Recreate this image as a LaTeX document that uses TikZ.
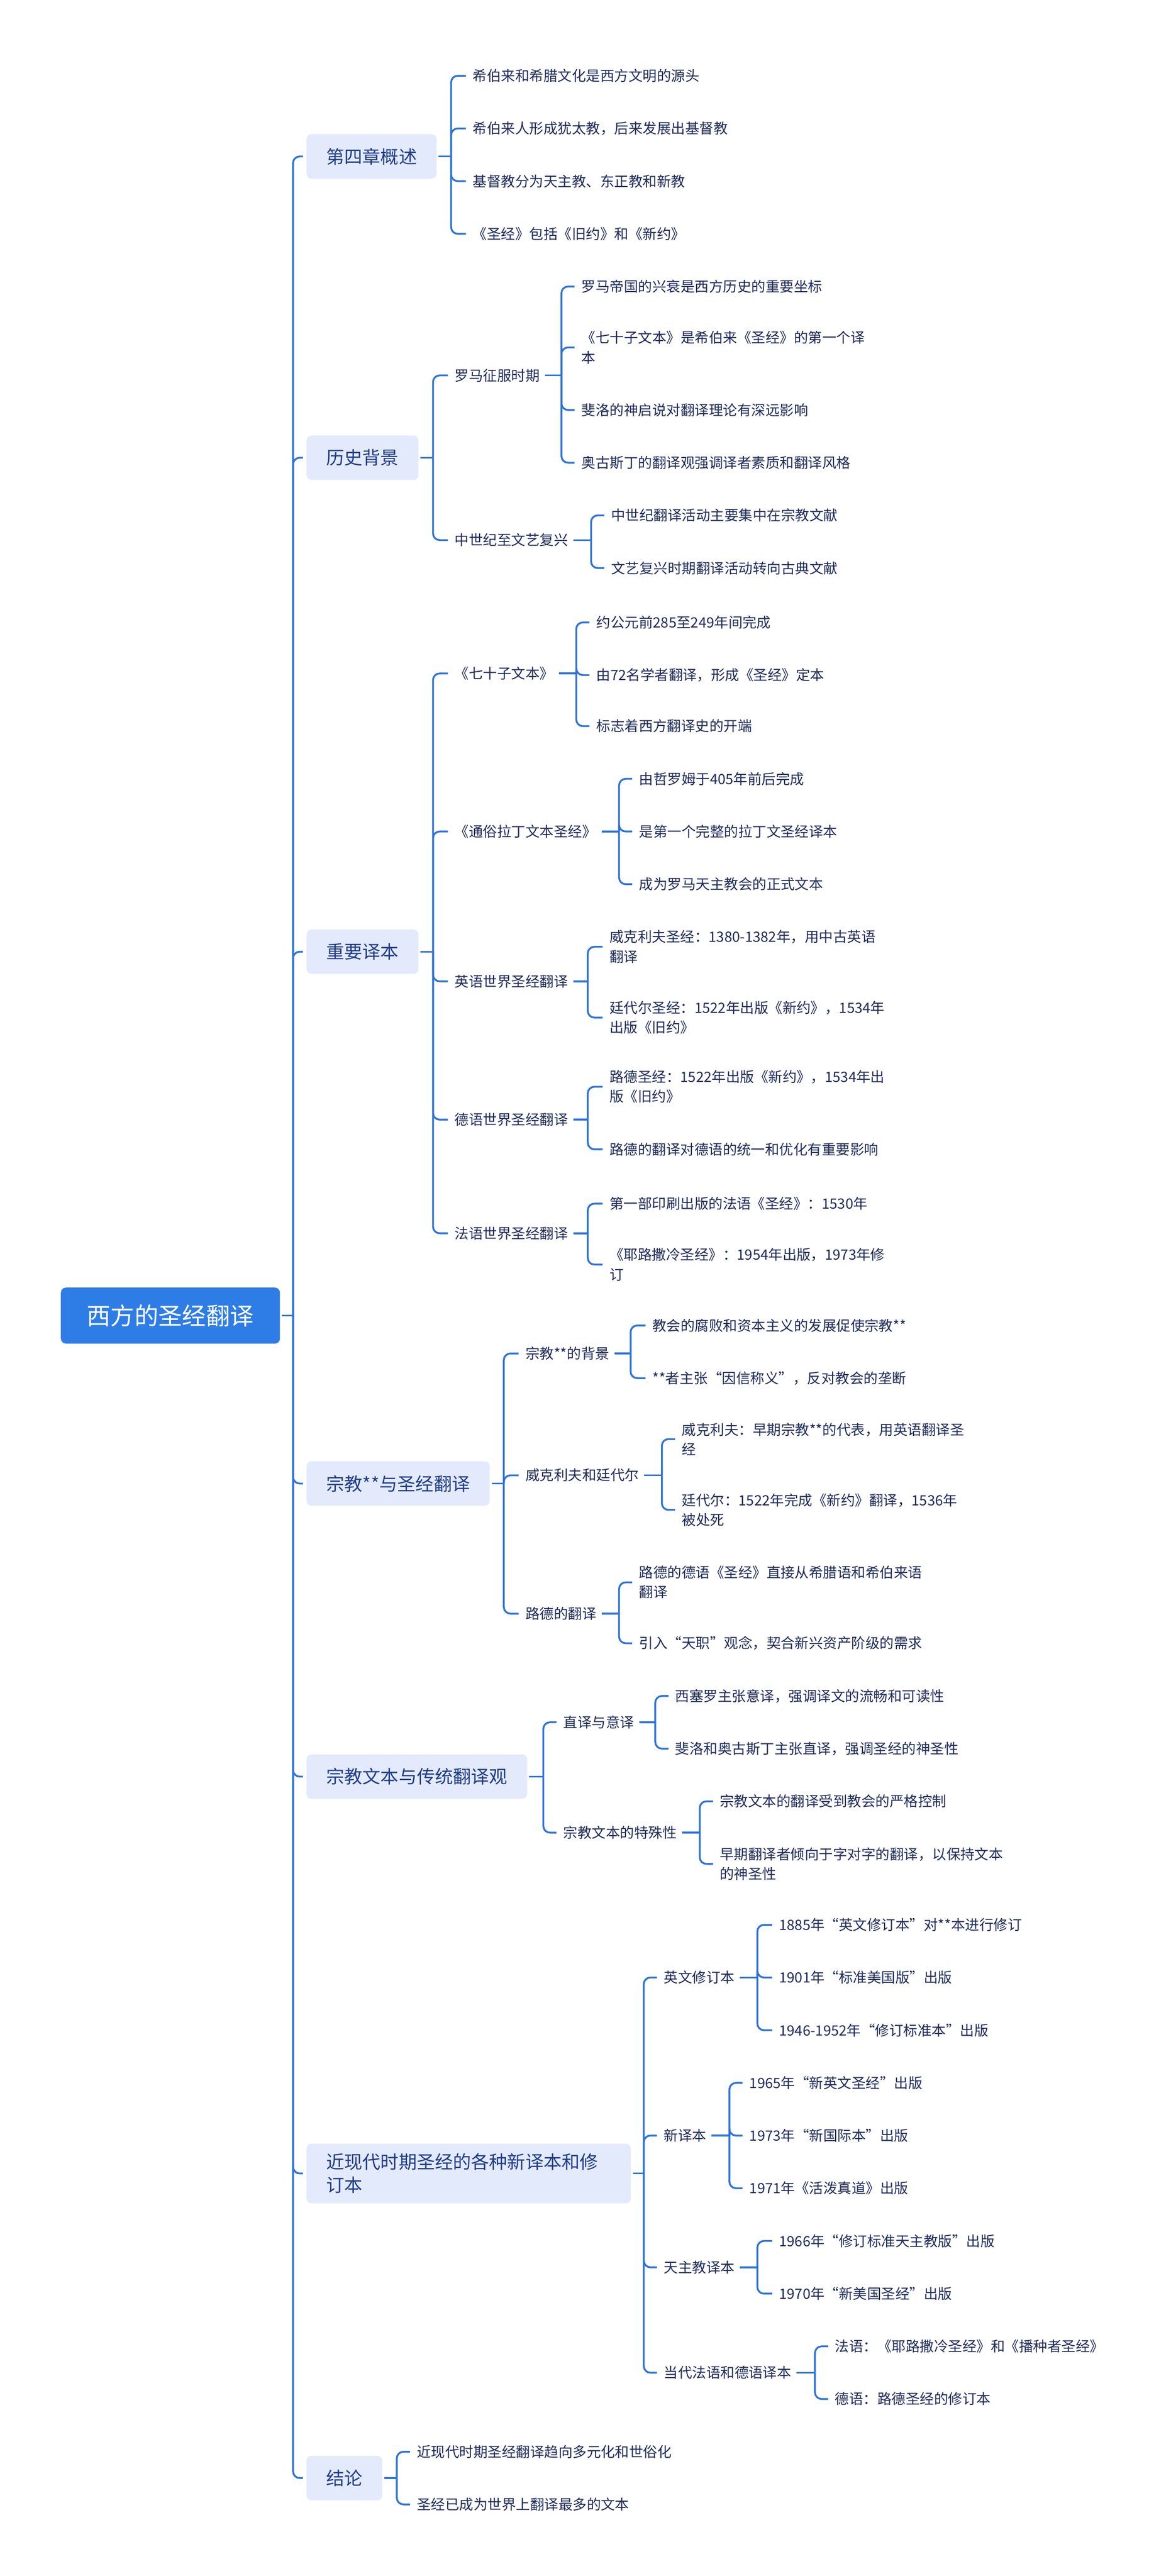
\documentclass[tikz,border=0pt]{standalone}
\usepackage{fontspec}
\setmainfont{Noto Sans CJK SC}
\begin{document}
\begin{tikzpicture}[x=1pt,y=-1pt,
  cn/.style={draw=lc,line width=1.1pt},
  rootbox/.style={fill=rootc,text=white,rounded corners=3pt,font=\fontsize{14.5}{17}\selectfont,minimum height=34pt,minimum width=133pt,inner sep=0pt},
  l1/.style={fill=l1c,text=l1t,rounded corners=3pt,font=\fontsize{11}{14}\selectfont,minimum height=27pt,inner xsep=12pt,inner ysep=4pt,anchor=west,align=left},
  lf/.style={text=tc,font=\fontsize{8.6}{12}\selectfont,inner xsep=2pt,inner ysep=2pt,anchor=west,align=left}]
\definecolor{lc}{HTML}{2F73D8}
\definecolor{rootc}{HTML}{2E7DE6}
\definecolor{l1c}{HTML}{E3EAFB}
\definecolor{l1t}{HTML}{1F3C88}
\definecolor{tc}{HTML}{1E2A5A}
\useasboundingbox (0,0) rectangle (711,1564.5);
\newcommand\lnk[3]{\draw[cn] ([xshift=1pt]#1.east) -- (#3,0 |- #1.east);
  \draw[cn,rounded corners=4pt] (#3,0 |- #1.east) |- ([xshift=-2pt]#2.west);}
\node[rootbox] (r) at (103.5,799) {西方的圣经翻译};
% level 1
\node[l1] (a) at (186,95) {第四章概述};
\node[l1] (b) at (186,278) {历史背景};
\node[l1] (c) at (186,578) {重要译本};
\node[l1] (d) at (186,901) {宗教**与圣经翻译};
\node[l1] (e) at (186,1079) {宗教文本与传统翻译观};
\node[l1,text width=173pt,inner ysep=6pt] (f) at (186,1320) {近现代时期圣经的各种新译本和修\\订本};
\node[l1] (g) at (186,1505) {结论};
\foreach \n in {a,b,c,d,e,f,g} {\lnk{r}{\n}{178}}
% a
\node[lf] (a1) at (285,46) {希伯来和希腊文化是西方文明的源头};
\node[lf] (a2) at (285,78) {希伯来人形成犹太教，后来发展出基督教};
\node[lf] (a3) at (285,110) {基督教分为天主教、东正教和新教};
\node[lf] (a4) at (285,142) {《圣经》包括《旧约》和《新约》};
\foreach \n in {a1,a2,a3,a4} {\lnk{a}{\n}{274}}
% b
\node[lf] (b1) at (274,228) {罗马征服时期};
\node[lf] (b2) at (274,328) {中世纪至文艺复兴};
\foreach \n in {b1,b2} {\lnk{b}{\n}{263}}
\node[lf] (b11) at (351,174) {罗马帝国的兴衰是西方历史的重要坐标};
\node[lf] (b12) at (351,211) {《七十子文本》是希伯来《圣经》的第一个译\\本};
\node[lf] (b13) at (351,249) {斐洛的神启说对翻译理论有深远影响};
\node[lf] (b14) at (351,281) {奥古斯丁的翻译观强调译者素质和翻译风格};
\foreach \n in {b11,b12,b13,b14} {\lnk{b1}{\n}{341}}
\node[lf] (b21) at (369,313) {中世纪翻译活动主要集中在宗教文献};
\node[lf] (b22) at (369,345) {文艺复兴时期翻译活动转向古典文献};
\foreach \n in {b21,b22} {\lnk{b2}{\n}{359}}
% c
\node[lf] (c1) at (274,409) {《七十子文本》};
\node[lf] (c2) at (274,505) {《通俗拉丁文本圣经》};
\node[lf] (c3) at (274,596) {英语世界圣经翻译};
\node[lf] (c4) at (274,680) {德语世界圣经翻译};
\node[lf] (c5) at (274,749) {法语世界圣经翻译};
\foreach \n in {c1,c2,c3,c4,c5} {\lnk{c}{\n}{263}}
\node[lf] (c11) at (360,378) {约公元前285至249年间完成};
\node[lf] (c12) at (360,410) {由72名学者翻译，形成《圣经》定本};
\node[lf] (c13) at (360,441) {标志着西方翻译史的开端};
\foreach \n in {c11,c12,c13} {\lnk{c1}{\n}{350}}
\node[lf] (c21) at (386,473) {由哲罗姆于405年前后完成};
\node[lf] (c22) at (386,505) {是第一个完整的拉丁文圣经译本};
\node[lf] (c23) at (386,537) {成为罗马天主教会的正式文本};
\foreach \n in {c21,c22,c23} {\lnk{c2}{\n}{376}}
\node[lf] (c31) at (368,575) {威克利夫圣经：1380-1382年，用中古英语\\翻译};
\node[lf] (c32) at (368,618) {廷代尔圣经：1522年出版《新约》，1534年\\出版《旧约》};
\foreach \n in {c31,c32} {\lnk{c3}{\n}{357}}
\node[lf] (c41) at (368,660) {路德圣经：1522年出版《新约》，1534年出\\版《旧约》};
\node[lf] (c42) at (368,698) {路德的翻译对德语的统一和优化有重要影响};
\foreach \n in {c41,c42} {\lnk{c4}{\n}{357}}
\node[lf] (c51) at (368,731) {第一部印刷出版的法语《圣经》：1530年};
\node[lf] (c52) at (368,768) {《耶路撒冷圣经》：1954年出版，1973年修\\订};
\foreach \n in {c51,c52} {\lnk{c5}{\n}{357}}
% d
\node[lf] (d1) at (317,822) {宗教**的背景};
\node[lf] (d2) at (317,896) {威克利夫和廷代尔};
\node[lf] (d3) at (317,980) {路德的翻译};
\foreach \n in {d1,d2,d3} {\lnk{d}{\n}{306}}
\node[lf] (d11) at (394,805) {教会的腐败和资本主义的发展促使宗教**};
\node[lf] (d12) at (394,837) {**者主张“因信称义”，反对教会的垄断};
\foreach \n in {d11,d12} {\lnk{d1}{\n}{383}}
\node[lf] (d21) at (412,874) {威克利夫：早期宗教**的代表，用英语翻译圣\\经};
\node[lf] (d22) at (412,917) {廷代尔：1522年完成《新约》翻译，1536年\\被处死};
\foreach \n in {d21,d22} {\lnk{d2}{\n}{402}}
\node[lf] (d31) at (386,961) {路德的德语《圣经》直接从希腊语和希伯来语\\翻译};
\node[lf] (d32) at (386,998) {引入“天职”观念，契合新兴资产阶级的需求};
\foreach \n in {d31,d32} {\lnk{d3}{\n}{376}}
% e
\node[lf] (e1) at (340,1046) {直译与意译};
\node[lf] (e2) at (340,1113) {宗教文本的特殊性};
\foreach \n in {e1,e2} {\lnk{e}{\n}{330}}
\node[lf] (e11) at (408,1030) {西塞罗主张意译，强调译文的流畅和可读性};
\node[lf] (e12) at (408,1062) {斐洛和奥古斯丁主张直译，强调圣经的神圣性};
\foreach \n in {e11,e12} {\lnk{e1}{\n}{398}}
\node[lf] (e21) at (435,1094) {宗教文本的翻译受到教会的严格控制};
\node[lf] (e22) at (435,1132) {早期翻译者倾向于字对字的翻译，以保持文本\\的神圣性};
\foreach \n in {e21,e22} {\lnk{e2}{\n}{425}}
% f
\node[lf] (f1) at (401,1201) {英文修订本};
\node[lf] (f2) at (401,1297) {新译本};
\node[lf] (f3) at (401,1377) {天主教译本};
\node[lf] (f4) at (401,1441) {当代法语和德语译本};
\foreach \n in {f1,f2,f3,f4} {\lnk{f}{\n}{391}}
\node[lf] (f11) at (471,1169) {1885年“英文修订本”对**本进行修订};
\node[lf] (f12) at (471,1201) {1901年“标准美国版”出版};
\node[lf] (f13) at (471,1233) {1946-1952年“修订标准本”出版};
\foreach \n in {f11,f12,f13} {\lnk{f1}{\n}{460}}
\node[lf] (f21) at (453,1265) {1965年“新英文圣经”出版};
\node[lf] (f22) at (453,1297) {1973年“新国际本”出版};
\node[lf] (f23) at (453,1329) {1971年《活泼真道》出版};
\foreach \n in {f21,f22,f23} {\lnk{f2}{\n}{443}}
\node[lf] (f31) at (471,1361) {1966年“修订标准天主教版”出版};
\node[lf] (f32) at (471,1393) {1970年“新美国圣经”出版};
\foreach \n in {f31,f32} {\lnk{f3}{\n}{460}}
\node[lf] (f41) at (505,1425) {法语：《耶路撒冷圣经》和《播种者圣经》};
\node[lf] (f42) at (505,1457) {德语：路德圣经的修订本};
\foreach \n in {f41,f42} {\lnk{f4}{\n}{495}}
% g
\node[lf] (g1) at (251,1489) {近现代时期圣经翻译趋向多元化和世俗化};
\node[lf] (g2) at (251,1521) {圣经已成为世界上翻译最多的文本};
\foreach \n in {g1,g2} {\lnk{g}{\n}{241}}
\end{tikzpicture}
\end{document}
